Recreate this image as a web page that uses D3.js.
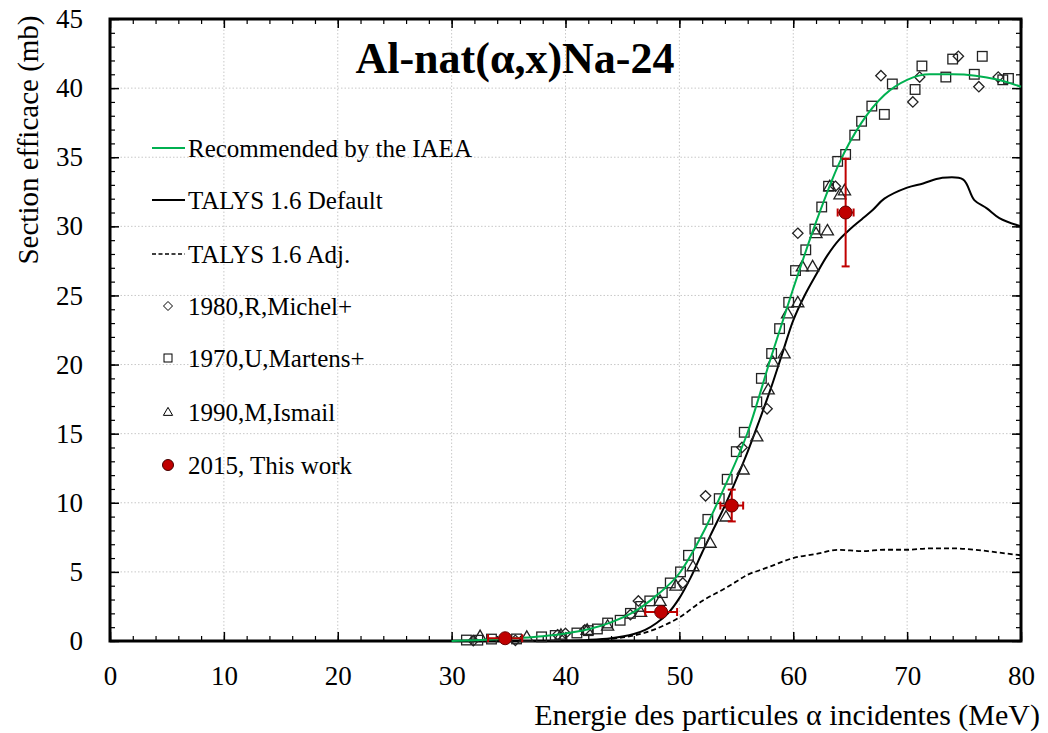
<!DOCTYPE html>
<html><head><meta charset="utf-8">
<script src="https://cdn.jsdelivr.net/npm/d3@7"></script>
<style>body{margin:0;background:#fff}svg{display:block}text{font-family:"Liberation Serif","Times New Roman",serif}</style>
</head><body>
<script>
// ---------- data ----------
const xTicks = [0,10,20,30,40,50,60,70,80];
const yTicks = [0,5,10,15,20,25,30,35,40,45];
const iaeaE = [30,32,34,36,38,40,42,44,46,48,50,52,54,56,58,60,62,64,66,68,70,72,74,76,78,80];
const iaeaS = [0.0,0.05,0.12,0.22,0.35,0.55,0.85,1.35,2.1,3.3,4.9,7.7,11.2,15.1,20.4,25.5,30.3,34.5,37.5,39.5,40.6,41.0,41.0,40.9,40.6,40.1];
const talysDefE = [38,42,44,46,47,48,49,50,51,52,53,54,55,56,57,58,59,60,61,62,63,64,65,66,67,68,70,71.4,73,74.9,75.9,77,78.1,80];
const talysDefS = [0.0,0.08,0.2,0.5,0.8,1.3,2.0,3.1,4.6,6.4,8.1,9.8,11.7,13.7,15.9,18.2,20.7,23.2,25.0,26.5,27.9,29.0,29.8,30.5,31.2,32.0,32.8,33.1,33.5,33.4,31.9,31.3,30.6,30.0];
const talysAdjE = [42,44,46,47,48,50,52,54,55,56,57,58,60,62,64,66,68,70,72,74,76,78,80];
const talysAdjS = [0.0,0.15,0.4,0.6,0.9,1.7,2.9,3.8,4.3,4.8,5.1,5.4,6.0,6.3,6.6,6.5,6.6,6.6,6.7,6.7,6.6,6.4,6.2];
const michelE = [31.9,35.6,39.3,40.0,41.7,45.7,46.4,50.3,52.3,55.5,57.7,60.4,63.7,67.7,70.5,71.1,74.5,76.3,78.0];
const michelS = [0.02,0.05,0.45,0.55,0.8,1.9,2.9,4.2,10.5,14.0,16.8,29.5,32.9,40.9,39.0,40.8,42.3,40.1,40.8];
const martensE = [31.3,32.3,33.5,35.7,37.9,39.1,41.0,42.0,42.8,43.7,44.8,45.7,46.6,47.4,48.5,49.2,50.1,50.8,51.8,52.5,53.5,54.2,55.0,55.7,56.8,57.2,58.1,58.8,59.6,60.2,61.1,61.9,62.5,63.1,63.9,64.6,65.4,66.0,66.9,68.0,68.7,70.7,71.3,73.4,74.0,75.9,76.6,78.4,78.9];
const martensS = [0.07,0.06,0.14,0.15,0.3,0.4,0.58,0.75,0.87,1.3,1.5,2.0,2.5,2.9,3.5,4.2,5.0,6.2,7.1,8.8,10.3,11.7,13.7,15.1,17.3,19.0,20.8,22.6,24.5,26.8,28.3,29.8,31.4,32.9,34.7,35.2,36.6,37.6,38.7,38.1,40.3,39.9,41.6,40.8,42.1,41.0,42.3,40.6,40.7];
const ismailE = [32.5,36.6,39.6,41.9,43.7,46.6,48.3,49.7,51.2,52.7,54.1,55.6,56.8,57.8,58.2,59.2,59.5,60.4,60.8,61.7,62.0,63.0,63.2,64.1,64.5];
const ismailS = [0.35,0.3,0.45,0.8,1.1,2.1,2.9,4.0,5.4,7.1,9.0,12.4,14.8,18.2,20.2,20.8,23.7,24.5,27.1,27.1,29.5,29.7,32.9,32.3,32.6];
const workE = [34.7,48.4,54.6,64.6];
const workS = [0.2,2.1,9.8,31.0];
const workDE = [1.5,1.4,1.0,0.7];
const workDS = [0,0,1.15,3.9];
const legendLabels = ["Recommended by the IAEA","TALYS 1.6 Default","TALYS 1.6 Adj.","1980,R,Michel+","1970,U,Martens+","1990,M,Ismail","2015, This work"];
const titleText = "Al-nat(α,x)Na-24";
const xTitle = "Energie des particules α incidentes (MeV)";
const yTitle = "Section efficace (mb)";

// ---------- setup ----------
const W = 1048, H = 733;
const L = 110, R = 1021, T = 19, B = 641;
const green = "#00b050", red = "#c00000";
const svg = d3.select("body").append("svg").attr("width", W).attr("height", H);
const x = d3.scaleLinear().domain([0,80]).range([L,R]);
const y = d3.scaleLinear().domain([0,45]).range([B,T]);

// grid
const grid = svg.append("g").attr("stroke","#c8c8c8").attr("stroke-width",1).attr("stroke-dasharray","1.5,2");
xTicks.slice(1,-1).forEach(v => grid.append("line").attr("x1",x(v)).attr("x2",x(v)).attr("y1",T).attr("y2",B));
yTicks.slice(1,-1).forEach(v => grid.append("line").attr("x1",L).attr("x2",R).attr("y1",y(v)).attr("y2",y(v)));

// axes (ticks inside)
const minorX = d3.range(0,81,2), minorY = d3.range(0,46,1);
function ax(gen, tr, mTicks, major, len, mlen, showLabels){
  const g = svg.append("g").attr("transform",tr);
  g.call(gen.tickValues(major).tickSize(len).tickFormat(showLabels ? d3.format("d") : ""));
  g.select(".domain").remove();
  g.selectAll(".tick line").attr("stroke","#000").attr("stroke-width",1.5);
  const g2 = svg.append("g").attr("transform",tr);
  g2.call(gen.tickValues(mTicks).tickSize(mlen).tickFormat(""));
  g2.select(".domain").remove();
  g2.selectAll(".tick line").attr("stroke","#000").attr("stroke-width",1.2);
  return g;
}
const gxB = ax(d3.axisBottom(x), `translate(0,${B})`, minorX, xTicks, -9, -5, true);
gxB.selectAll(".tick text").attr("y",25).attr("dy","0.71em").style("font-size","27px").style("font-family","Liberation Serif").attr("fill","#000");
ax(d3.axisTop(x), `translate(0,${T})`, minorX, xTicks, -9, -5, false);
const gyL = ax(d3.axisLeft(y), `translate(${L},0)`, minorY, yTicks, -9, -5, true);
gyL.selectAll(".tick text").attr("x",-27).style("font-size","27px").style("font-family","Liberation Serif").attr("fill","#000");
ax(d3.axisRight(y), `translate(${R},0)`, minorY, yTicks, -9, -5, false);

// frame
svg.append("rect").attr("x",L).attr("y",T).attr("width",R-L).attr("height",B-T)
  .attr("fill","none").attr("stroke","#000").attr("stroke-width",3);

// curves
const line = d3.line().x(d=>x(d[0])).y(d=>y(d[1])).curve(d3.curveMonotoneX);
const plot = svg.append("g");
plot.append("path").datum(d3.zip(talysAdjE,talysAdjS)).attr("d",line).attr("fill","none").attr("stroke","#000").attr("stroke-width",1.8).attr("stroke-dasharray","5,3");
plot.append("path").datum(d3.zip(talysDefE,talysDefS)).attr("d",d3.line().x(d=>x(d[0])).y(d=>y(d[1])).curve(d3.curveCatmullRom)).attr("fill","none").attr("stroke","#000").attr("stroke-width",2);

// markers
const mk = {
  diamond: (g,cx,cy,s)=>g.append("path").attr("d",`M${cx},${cy-s}L${cx+s},${cy}L${cx},${cy+s}L${cx-s},${cy}Z`),
  square: (g,cx,cy,s)=>g.append("rect").attr("x",cx-s).attr("y",cy-s).attr("width",2*s).attr("height",2*s),
  tri: (g,cx,cy,s)=>g.append("path").attr("d",`M${cx},${cy-s*1.1}L${cx+s*1.1},${cy+s*0.8}L${cx-s*1.1},${cy+s*0.8}Z`)
};
function series(E,S,type,s){
  const g = plot.append("g").attr("fill","none").attr("stroke","#222").attr("stroke-width",1.3);
  E.forEach((e,i)=>mk[type](g,x(e),y(S[i]),s));
}
series(ismailE,ismailS,"tri",5.5);
series(michelE,michelS,"diamond",5.2);
series(martensE,martensS,"square",4.8);

plot.append("path").datum(d3.zip(iaeaE,iaeaS)).attr("d",line).attr("fill","none").attr("stroke",green).attr("stroke-width",2);

// this work with error bars
const ew = plot.append("g").attr("stroke",red).attr("stroke-width",2);
workE.forEach((e,i)=>{
  const cx=x(e), cy=y(workS[i]);
  const x0=x(e-workDE[i]), x1=x(e+workDE[i]);
  ew.append("line").attr("x1",x0).attr("x2",x1).attr("y1",cy).attr("y2",cy);
  ew.append("line").attr("x1",x0).attr("x2",x0).attr("y1",cy-4).attr("y2",cy+4);
  ew.append("line").attr("x1",x1).attr("x2",x1).attr("y1",cy-4).attr("y2",cy+4);
  if (workDS[i]>0){
    const y0=y(workS[i]-workDS[i]), y1=y(workS[i]+workDS[i]);
    ew.append("line").attr("x1",cx).attr("x2",cx).attr("y1",y0).attr("y2",y1);
    ew.append("line").attr("x1",cx-4).attr("x2",cx+4).attr("y1",y0).attr("y2",y0);
    ew.append("line").attr("x1",cx-4).attr("x2",cx+4).attr("y1",y1).attr("y2",y1);
  }
});
plot.selectAll("circle.work").data(d3.zip(workE,workS)).enter().append("circle")
  .attr("cx",d=>x(d[0])).attr("cy",d=>y(d[1])).attr("r",6.5).attr("fill",red).attr("stroke","#600").attr("stroke-width",1);

// title
svg.append("text").attr("x",515).attr("y",73).attr("text-anchor","middle")
  .style("font-size","44px").style("font-weight","bold").text(titleText);

// axis titles
svg.append("text").attr("x",1040).attr("y",725).attr("text-anchor","end").style("font-size","30px").text(xTitle);
svg.append("text").attr("transform","translate(38,140) rotate(-90)").attr("text-anchor","middle").style("font-size","29px").text(yTitle);

// legend
const lg = svg.append("g");
const rowsY = [148,200,254,306,358,412,465];
const tx = 188;
legendLabels.forEach((t,i)=>{
  lg.append("text").attr("x",tx).attr("y",rowsY[i]).attr("dy","0.35em").style("font-size","25px").text(t);
});
lg.append("line").attr("x1",152).attr("x2",185).attr("y1",rowsY[0]).attr("y2",rowsY[0]).attr("stroke",green).attr("stroke-width",2);
lg.append("line").attr("x1",152).attr("x2",185).attr("y1",rowsY[1]).attr("y2",rowsY[1]).attr("stroke","#000").attr("stroke-width",2);
lg.append("line").attr("x1",152).attr("x2",185).attr("y1",rowsY[2]).attr("y2",rowsY[2]).attr("stroke","#000").attr("stroke-width",1.5).attr("stroke-dasharray","4,2.5");
const lgm = lg.append("g").attr("fill","none").attr("stroke","#000").attr("stroke-width",1);
mk.diamond(lgm,168,rowsY[3],4.5);
mk.square(lgm,168,rowsY[4],4);
mk.tri(lgm,168,rowsY[5],4.2);
lg.append("circle").attr("cx",168).attr("cy",rowsY[6]).attr("r",5.5).attr("fill",red).attr("stroke","#400");
</script>
</body></html>
